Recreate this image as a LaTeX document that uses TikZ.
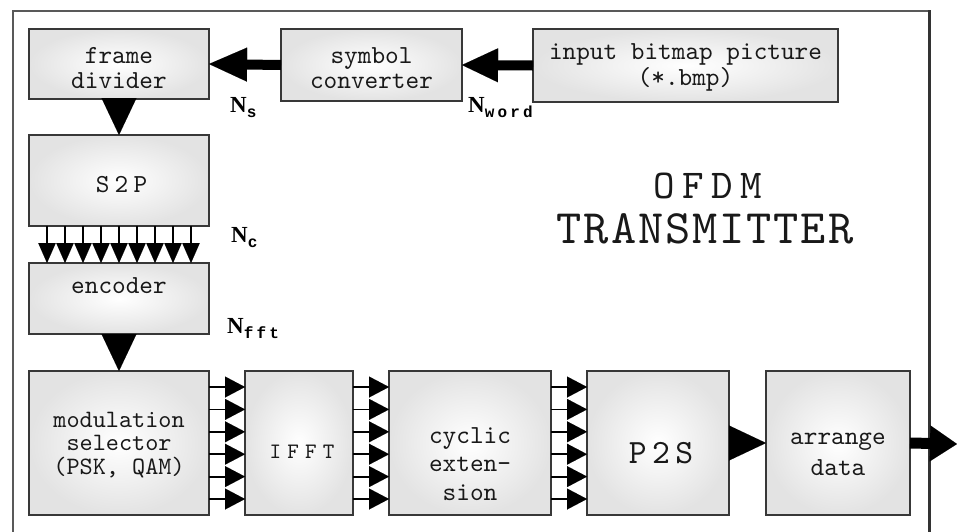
\documentclass[tikz,border=0pt]{standalone}
\usepackage{fontspec}
\setmainfont{Liberation Serif}
\setmonofont{lmmono10-regular}[Extension=.otf]
\newfontfamily\subfnt{Liberation Mono}
\usetikzlibrary{arrows.meta}
\newcommand\mlines[2]{\vtop{\baselineskip=#1\relax\lineskiplimit=-50pt\lineskip=0pt\halign{\hfil##\hfil\cr#2\crcr}}}
\newcommand\boxtxt{\ttfamily\fontsize{26}{25}\selectfont\color{black!90}}
\newcommand\Nlab[1]{\fontsize{23}{23}\selectfont\bfseries N\raisebox{-5pt}{\subfnt\fontsize{16}{16}\selectfont\addfontfeatures{LetterSpace=20}#1}}
\begin{document}
\begin{tikzpicture}[x=1pt,y=-1pt,
  blk/.style={draw=black!78, line width=1.3pt, shading=radial, inner color=white, outer color=black!11,
    inner sep=0pt, outer sep=0pt, anchor=north west},
  txt/.style={anchor=base, inner sep=0pt, font=\boxtxt},
  lab/.style={anchor=base west, inner sep=0pt},
  bigarrow/.style={line width=10pt, -{Triangle[length=36pt 0 0, width=34pt 0 0, line width=0.01pt 0 0]}},
  headonly/.style={line width=1pt, -{Triangle[length=37pt 0 0, width=35pt 0 0, line width=0.01pt 0 0]}},
  smallv/.style={line width=1.6pt, -{Triangle[length=20pt 0 0, width=17.5pt 0 0, line width=0.01pt 0 0]}},
  smallh/.style={line width=1.8pt, -{Triangle[length=20pt 0 0, width=21pt 0 0, line width=0.01pt 0 0]}}
]
\useasboundingbox (0,0) rectangle (957,531);
\fill[white] (0,0) rectangle (957,531);

% outer frame
\draw[black!65, line width=2pt] (13,545) -- (13,11) -- (929.5,11);
\draw[black!80, line width=3pt] (929.5,10) -- (929.5,545);

% blocks
\node[blk, minimum width=180pt, minimum height=70pt] (fd) at (29,29) {};
\node[blk, minimum width=181pt, minimum height=72pt] (sc) at (281,29) {};
\node[blk, minimum width=305pt, minimum height=73pt] (ib) at (533,29) {};
\node[blk, minimum width=180pt, minimum height=91pt] (s2p) at (29,135) {};
\node[blk, minimum width=180pt, minimum height=71pt] (enc) at (29,263) {};
\node[blk, minimum width=180pt, minimum height=144pt] (mod) at (29,371) {};
\node[blk, minimum width=108pt, minimum height=144pt] (ifft) at (245,371) {};
\node[blk, minimum width=162pt, minimum height=144pt] (cyc) at (389,371) {};
\node[blk, minimum width=142pt, minimum height=144pt] (p2s) at (587,371) {};
\node[blk, minimum width=144pt, minimum height=144pt] (arr) at (766,371) {};
\coordinate (out) at (957,444);

% texts
\node[txt] (fdt) at (119,63) {\mlines{25pt}{frame\cr divider}};
\node[txt] (sct) at (371.5,63) {\mlines{25pt}{symbol\cr converter}};
\node[txt] (ibt) at (685.5,59) {\mlines{26pt}{input bitmap picture\cr (*.bmp)}};
\node[txt] (s2pt) at (121.5,192) {\fontsize{26}{26}\selectfont\addfontfeatures{LetterSpace=20}S2P};
\node[txt] (enct) at (119,293) {encoder};
\node[txt] (modt) at (119,427) {\fontsize{25}{24}\selectfont\mlines{23.5pt}{modulation\cr selector\cr (PSK, QAM)}};
\node[txt] (ifftt) at (302,458) {\fontsize{22}{22}\selectfont\addfontfeatures{LetterSpace=28}IFFT};
\node[txt] (cyct) at (470,443) {\mlines{28.5pt}{cyclic\cr exten-\cr sion}};
\node[txt] (p2st) at (661,463) {\fontsize{34}{34}\selectfont\addfontfeatures{LetterSpace=16}P2S};
\node[txt] (arrt) at (838,444) {\mlines{31pt}{arrange\cr data}};
\node[txt] (ofdm) at (708,198) {\fontsize{41}{41}\selectfont\addfontfeatures{LetterSpace=18}OFDM};
\node[txt] (trans) at (705,243) {\fontsize{48}{48}\selectfont\addfontfeatures{LetterSpace=4}TRANSMITTER};

% labels
\node[lab] (lNs) at (230,112) {\Nlab{s}};
\node[lab] (lNw) at (468,112) {\Nlab{word}};
\node[lab] (lNc) at (231,242) {\Nlab{c}};
\node[lab] (lNf) at (227,333) {\Nlab{fft}};

% connectors
\draw[bigarrow] (ib.west) -- (sc.east);
\draw[bigarrow, -{Triangle[length=38pt 0 0, width=34pt 0 0, line width=0.01pt 0 0]}] (sc.west) -- (fd.east);
\draw[headonly] (fd.south) -- (s2p.north);
\draw[headonly] (enc.south) -- (mod.north);
\draw[headonly] (p2s.east) -- (arr.west);
\draw[line width=11pt, -{Triangle[length=27pt 0 0, width=36pt 0 0, line width=0.01pt 0 0]}] (arr.east) -- (out);

\foreach \d in {-72,-54,-36,-18,0,18,36,54,72}
  \draw[smallv] ([xshift=\d pt]s2p.south) -- ([xshift=\d pt]enc.north);
\foreach \d in {-56,-33.6,-11.2,11.2,33.6,56} {
  \draw[smallh] ([yshift=\d pt]mod.east) -- ([yshift=\d pt]ifft.west);
  \draw[smallh] ([yshift=\d pt]ifft.east) -- ([yshift=\d pt]cyc.west);
  \draw[smallh] ([yshift=\d pt]cyc.east) -- ([yshift=\d pt]p2s.west);
}
\end{tikzpicture}
\end{document}
